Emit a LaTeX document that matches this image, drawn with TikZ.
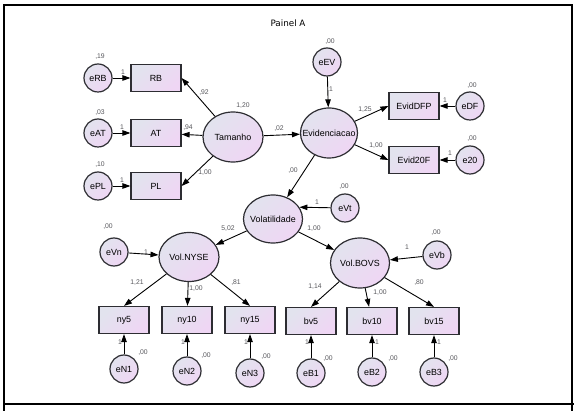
\documentclass[tikz,border=0pt]{standalone}
\usepackage{fontspec}
\setmainfont{Liberation Sans}
\newfontfamily\titlefont{DejaVu Sans}
\usetikzlibrary{arrows.meta,shapes.geometric}

\definecolor{fillA}{RGB}{226,227,238}
\definecolor{fillB}{RGB}{239,214,244}
\definecolor{edge}{RGB}{45,45,50}
\definecolor{coef}{RGB}{85,85,90}

\begin{document}
\begin{tikzpicture}[x=1pt, y=-1pt,
    shaded/.style={top color=fillA, bottom color=fillB, shading angle=45,
        draw=edge, line width=1.2pt},
    obs/.style={shaded, rectangle, minimum width=50pt, minimum height=27pt,
        inner sep=0pt, font=\fontsize{8.9}{10}\selectfont},
    lat/.style={shaded, ellipse, inner xsep=-14pt, inner ysep=0pt,
        font=\fontsize{8.9}{10}\selectfont},
    err/.style={shaded, circle, minimum size=28pt, inner sep=0pt,
        font=\fontsize{8.9}{10}\selectfont},
    est/.style={font=\fontsize{6.8}{7}\selectfont, text=coef, inner sep=0pt},
    path/.style={-{Triangle[length=8pt,width=5.5pt]}, line width=0.9pt}]

\useasboundingbox (0,0) rectangle (578,411);

% Frame
\draw[line width=1.2pt] (4,411) -- (4,5) -- (572,5) -- (572,411);
\draw[line width=1.2pt] (3,404) -- (574,404);
\node[font=\titlefont\fontsize{8.8}{10}\selectfont] (title) at (288,23) {Painel A};

% Size construct
\node[err] (erb) at (98,78) {eRB};
\node[err] (eat) at (98,133) {eAT};
\node[err] (epl) at (98,186) {ePL};
\node[obs] (rb) at (156,78) {RB};
\node[obs] (at) at (156,133) {AT};
\node[obs] (pl) at (156,186) {PL};
\node[lat, minimum width=60pt, minimum height=50pt] (tam) at (233,137) {Tamanho};

% Disclosure construct
\node[err] (eev) at (327,62) {eEV};
\node[lat, minimum width=57pt, minimum height=50pt] (evid) at (329,133) {Evidenciacao};
\node[obs] (dfp) at (414,106) {EvidDFP};
\node[obs] (f20) at (414,160) {Evid20F};
\node[err] (edf) at (470,106) {eDF};
\node[err] (e20) at (470,160) {e20};

% Volatility constructs
\node[lat, minimum width=59pt, minimum height=48pt] (vol) at (273,219) {Volatilidade};
\node[err] (evt) at (345,208) {eVt};
\node[lat, minimum width=60pt, minimum height=49pt] (nyse) at (189,257) {Vol.NYSE};
\node[err] (evn) at (114,252) {eVn};
\node[lat, minimum width=59pt, minimum height=50pt] (bovs) at (360,263) {Vol.BOVS};
\node[err] (evb) at (437,255) {eVb};

% Indicators of volatility
\node[obs] (ny5) at (124,320) {ny5};
\node[obs] (ny10) at (187,320) {ny10};
\node[obs] (ny15) at (250,320) {ny15};
\node[obs] (bv5) at (311,321) {bv5};
\node[obs] (bv10) at (372,321) {bv10};
\node[obs] (bv15) at (434,321) {bv15};
\node[err] (en1) at (124,369) {eN1};
\node[err] (en2) at (187,371) {eN2};
\node[err] (en3) at (250,373) {eN3};
\node[err] (eb1) at (311,373) {eB1};
\node[err] (eb2) at (372,372) {eB2};
\node[err] (eb3) at (434,372) {eB3};

% Paths
\draw[path] (erb) -- (rb);
\draw[path] (eat) -- (at);
\draw[path] (epl) -- (pl);
\draw[path] (tam) -- (rb.east);
\draw[path] (tam) -- (at);
\draw[path] (tam) -- (pl.east);
\draw[path] (tam) -- (evid);
\draw[path] (eev) -- (evid);
\draw[path] (evid) -- (dfp.west);
\draw[path] (evid) -- (f20.west);
\draw[path] (edf) -- (dfp);
\draw[path] (e20) -- (f20);
\draw[path] (evid) -- (vol);
\draw[path] (evt) -- (vol.24);
\draw[path] (vol) -- (nyse);
\draw[path] (vol) -- (bovs);
\draw[path] (evn) -- (nyse);
\draw[path] (evb) -- (bovs);
\draw[path] (nyse) -- (ny5.north);
\draw[path] (nyse) -- (ny10);
\draw[path] (nyse) -- (ny15.north);
\draw[path] (bovs) -- (bv5.north);
\draw[path] (bovs) -- (bv10);
\draw[path] (bovs) -- (bv15.north);
\foreach \e/\o in {en1/ny5, en2/ny10, en3/ny15, eb1/bv5, eb2/bv10, eb3/bv15}
    \draw[path] (\e) -- (\o);

% Estimates -- manually positioned
\node[est] at (100,57) {,19};
\node[est] at (100,113) {,03};
\node[est] at (100,165) {,10};
\node[est] at (123,72) {1};
\node[est] at (122,127) {1};
\node[est] at (122,180) {1};
\node[est] at (204,93) {,92};
\node[est] at (243,106) {1,20};
\node[est] at (188,128) {,94};
\node[est] at (205,173) {1,00};
\node[est] at (279,129) {,02};
\node[est] at (330,42) {,00};
\node[est] at (331,89) {1};
\node[est] at (365,110) {1,25};
\node[est] at (376,146) {1,00};
\node[est] at (472,86) {,00};
\node[est] at (445,100) {1};
\node[est] at (472,139) {,00};
\node[est] at (450,153) {1};
\node[est] at (293,171) {,00};
\node[est] at (344,187) {,00};
\node[est] at (317,202) {1};
\node[est] at (228,229) {5,02};
\node[est] at (314,229) {1,00};
\node[est] at (108,227) {,00};
\node[est] at (146,252) {1};
\node[est] at (436,233) {,00};
\node[est] at (407,247) {1};
\node[est] at (137,283) {1,21};
\node[est] at (196,289) {1,00};
\node[est] at (236,283) {,81};
\node[est] at (315,287) {1,14};
\node[est] at (380,293) {1,00};
\node[est] at (419,283) {,80};
\foreach \x/\y in {143/353, 206/356, 266/357, 328/359, 393/359, 453/359}
    \node[est] at (\x,\y) {,00};
\foreach \x in {120, 183, 246, 307, 377, 439}
    \node[est] at (\x,342) {1};

\end{tikzpicture}
\end{document}
